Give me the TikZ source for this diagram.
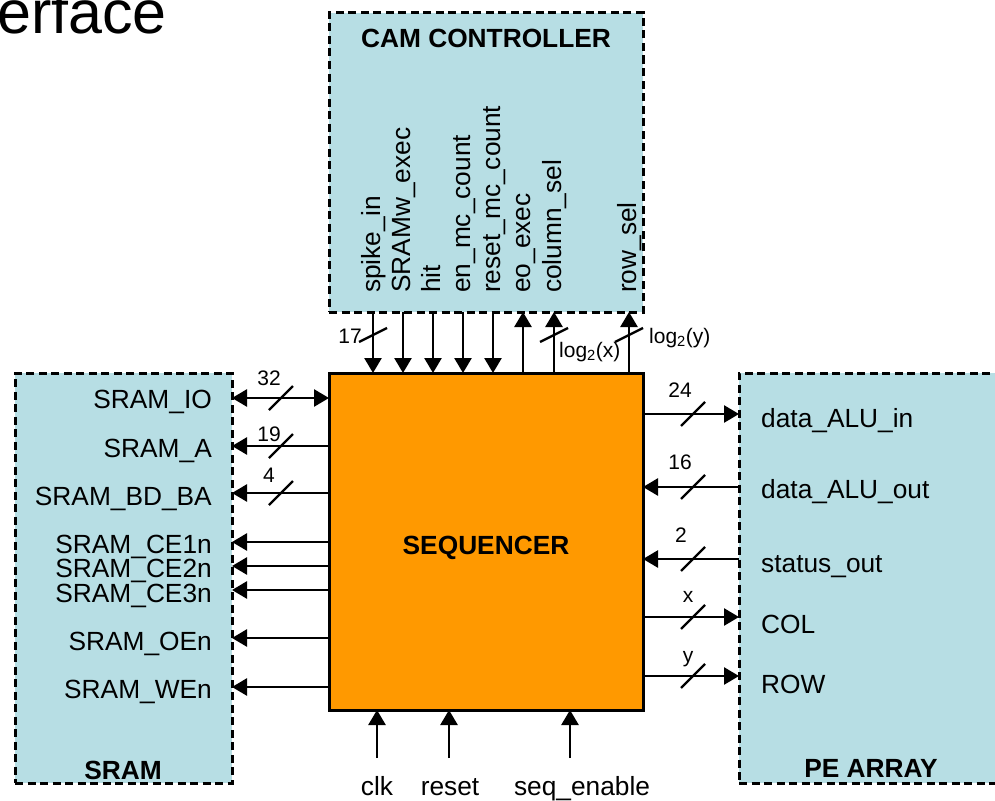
\documentclass[tikz,border=0pt]{standalone}
\usepackage{fontspec}
\setmainfont{Liberation Sans}
\usetikzlibrary{arrows.meta,positioning}

\definecolor{camfill}{RGB}{183,222,228}
\definecolor{seqfill}{RGB}{255,153,0}

\newcommand{\lblsize}{\fontsize{26.3}{30}\selectfont}
\newcommand{\numsize}{\fontsize{21}{24}\selectfont}

\begin{document}
\begin{tikzpicture}[
    x=1pt, y=-1pt,
    block/.style={rectangle, draw, dash pattern=on 8pt off 4.5pt, line width=3pt, fill=camfill, anchor=north west, inner sep=0pt, outer sep=0pt},
    seqbox/.style={rectangle, draw, line width=3pt, fill=seqfill, anchor=north west, inner sep=0pt, outer sep=0pt},
    headlbl/.style={font=\lblsize\bfseries, inner sep=0pt, anchor=base},
    port/.style={font=\lblsize, inner sep=0pt},
    toplbl/.style={font=\lblsize, inner sep=0pt, rotate=90, anchor=base west},
    buswidth/.style={font=\numsize, inner sep=0pt, anchor=base},
    sig/.style={-{Triangle[length=15pt,width=17pt]}, line width=2.6pt},
    bus/.style={{Triangle[length=15pt,width=17pt]}-{Triangle[length=15pt,width=17pt]}, line width=2.6pt},
    slash/.style={line width=2.3pt}
]
    \useasboundingbox (0,0) rectangle (995,800);

    % slide title, cut off
    \node[anchor=base west, inner sep=0pt, font=\fontsize{61}{61}\selectfont] (slidetitle) at (-3,34) {erface};

    % blocks
    \node[block, minimum width=314pt, minimum height=299pt] (cam) at (329,13) {};
    \node[seqbox, minimum width=314pt, minimum height=337pt] (seq) at (329,373) {};
    \node[block, minimum width=217pt, minimum height=410pt] (sram) at (15,373) {};
    \node[block, minimum width=258pt, minimum height=410pt] (pe) at (739,373) {};

    \node[headlbl] (camtitle) at ([yshift=-35pt]cam.north) {CAM CONTROLLER};
    \node[headlbl] (seqtitle) at (486,554) {SEQUENCER};
    \node[headlbl] (sramtitle) at (123,779) {SRAM};
    \node[headlbl] (petitle) at (871,777) {PE ARRAY};

    % SRAM side
    \node[port, anchor=base east] (sramio) at (212,408) {SRAM\_IO};
    \coordinate (ioline) at (0,398);
    \draw[bus] (seq.west |- ioline) -- (sram.east |- ioline);
    \foreach \ay/\by/\txt [count=\i] in {446/457/SRAM\_A, 493/505/SRAM\_BD\_BA,
        542/553/SRAM\_CE1n, 566/577/SRAM\_CE2n, 590/602/SRAM\_CE3n,
        638/650/SRAM\_OEn, 687/698/SRAM\_WEn} {
        \node[port, anchor=base east] (sramp\i) at (212,\by) {\txt};
        \coordinate (sline\i) at (0,\ay);
        \draw[sig] (seq.west |- sline\i) -- (sram.east |- sline\i);
    }
    \foreach \sy/\n/\ny in {398/32/385, 446/19/441, 493/4/482} {
        \draw[slash] (281,\sy) ++(-12,12) -- ++(24,-24);
        \node[buswidth] at (269,\ny) {\n};
    }

    % PE array side
    \foreach \ay/\by/\txt [count=\i] in {414/427/data\_ALU\_in, 487/498/data\_ALU\_out,
        559/572/status\_out, 617/633/COL, 676/693/ROW} {
        \node[port, anchor=base west] (pep\i) at (761,\by) {\txt};
        \coordinate (pline\i) at (0,\ay);
    }
    \draw[sig] (seq.east |- pline1) -- (pe.west |- pline1);
    \draw[sig] (pe.west |- pline2) -- (seq.east |- pline2);
    \draw[sig] (pe.west |- pline3) -- (seq.east |- pline3);
    \draw[sig] (seq.east |- pline4) -- (pe.west |- pline4);
    \draw[sig] (seq.east |- pline5) -- (pe.west |- pline5);
    \foreach \sy/\n/\nx/\ny in {414/24/680/397, 487/16/680/469, 559/2/681/542, 617/x/688/602, 676/y/688/662} {
        \draw[slash] (693,\sy) ++(-12,12) -- ++(24,-24);
        \node[buswidth] at (\nx,\ny) {\n};
    }

    % CAM controller side
    \foreach \px/\txt [count=\i] in {373/spike\_in, 403/SRAMw\_exec, 433/hit,
        463/en\_mc\_count, 493/reset\_mc\_count, 523/eo\_exec, 554/column\_sel, 629/row\_sel} {
        \node[toplbl] (camp\i) at (\px+7,293) {\txt};
        \coordinate (cline\i) at (\px,0);
    }
    \foreach \i in {1,...,5}
        \draw[sig] (cam.south -| cline\i) -- (seq.north -| cline\i);
    \foreach \i in {6,7,8}
        \draw[sig] (seq.north -| cline\i) -- (cam.south -| cline\i);
    \foreach \sx in {373,554,629}
        \draw[slash] (\sx,335) ++(-14,7) -- ++(28,-14);
    \node[buswidth] at (350,343) {17};
    \node[buswidth, anchor=base west] at (559,357) {log\textsubscript{2}(x)};
    \node[buswidth, anchor=base west] at (649,343) {log\textsubscript{2}(y)};

    % inputs from below
    \foreach \px/\lx/\txt/\name in {377/377/clk/clk, 449/450/reset/rst, 570/582/seq\_enable/seqen} {
        \node[port, anchor=base] (\name) at (\lx,795) {\txt};
        \coordinate (\name in) at (\px,758);
        \draw[sig] (\name in) -- (seq.south -| \name in);
    }
\end{tikzpicture}
\end{document}
